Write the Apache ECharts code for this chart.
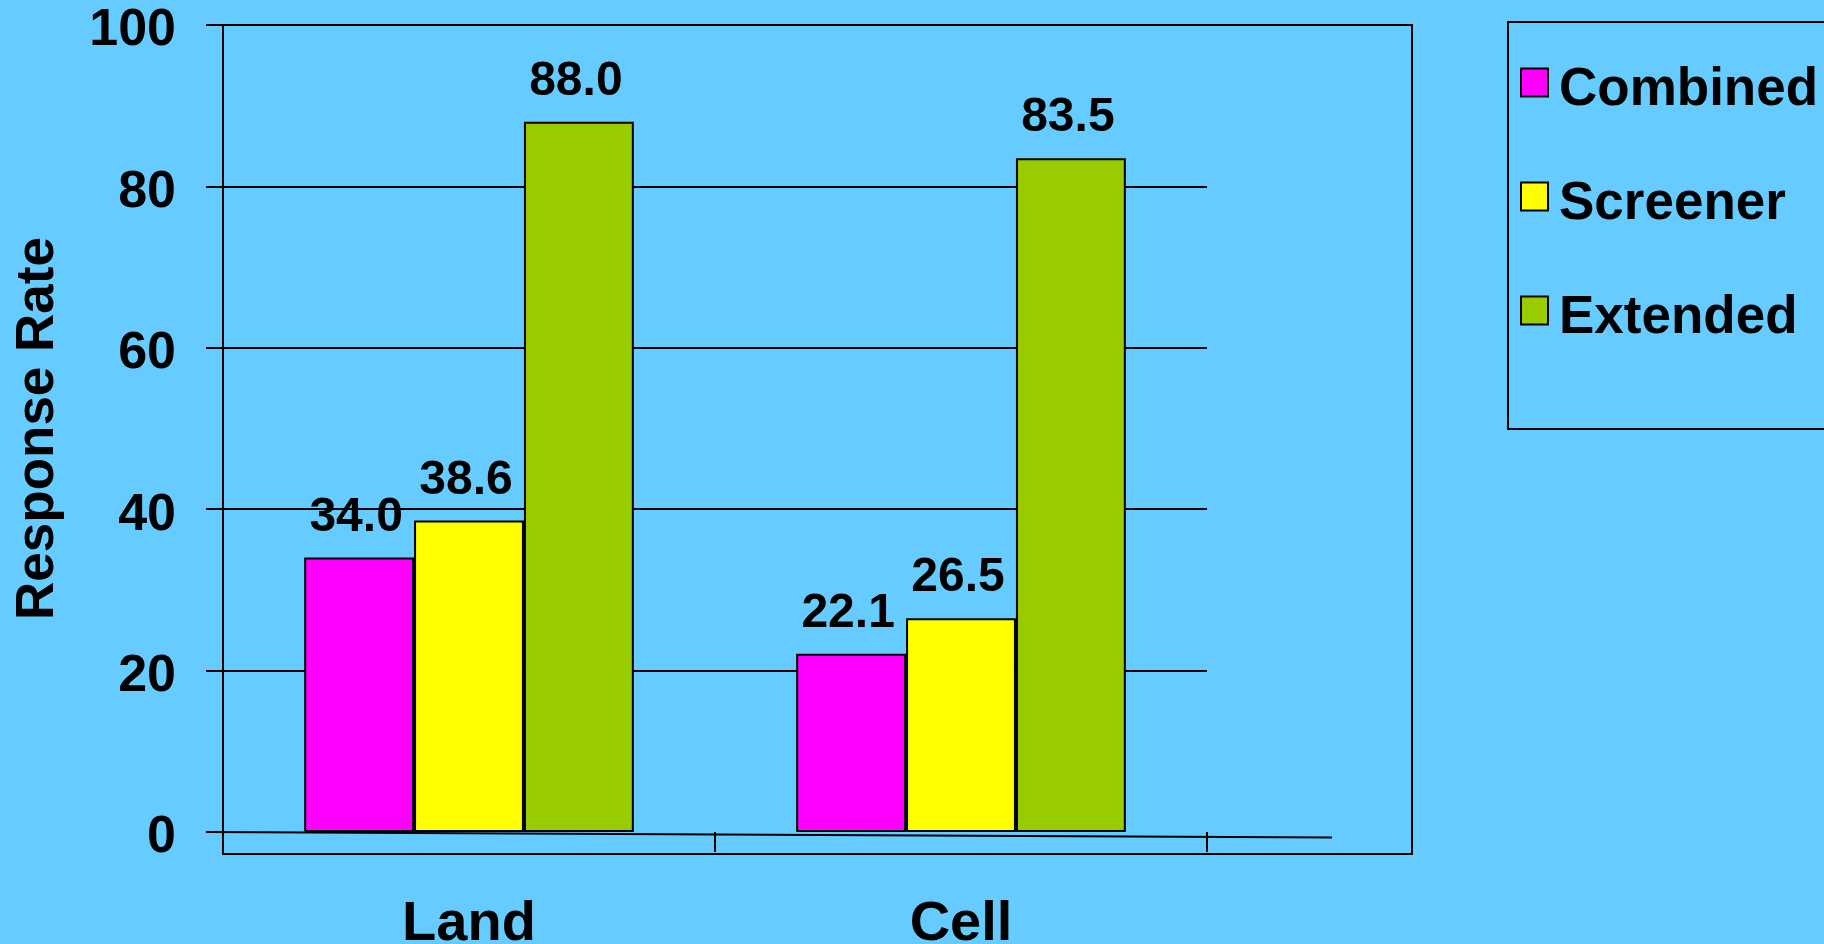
<!DOCTYPE html>
<html>
<head>
<meta charset="utf-8">
<title>Response Rate</title>
<script src="https://cdn.jsdelivr.net/npm/echarts@6/dist/echarts.min.js"></script>
<style>
  html, body { margin: 0; padding: 0; background: #66CCFF; }
  #chart { width: 1824px; height: 944px; }
</style>
</head>
<body>
<div id="chart"></div>
<script>
// Sample groups and response rates (%)
const categories = ['Land', 'Cell'];
const seriesNames = ['Combined', 'Screener', 'Extended'];
const combined = [34.0, 22.1];
const screener = [38.6, 26.5];
const extended = [88.0, 83.5];
const yTicks = { min: 0, max: 100, interval: 20 };

const seriesValues = [combined, screener, extended];
const seriesColors = ['#FF00FF', '#FFFF00', '#99CC00'];

const FONT = '"Liberation Sans", Arial, Helvetica, sans-serif';
const GRID = { left: 223, top: 25, width: 984, height: 807 };
const FRAME_RIGHT = 1412;
const FRAME_BOTTOM = 854;

const chart = echarts.init(document.getElementById('chart'), null, { renderer: 'canvas' });

const series = seriesNames.map((name, i) => ({
  name: name,
  type: 'bar',
  data: seriesValues[i],
  barGap: '0%',
  barCategoryGap: '33%',
  itemStyle: { color: seriesColors[i], borderColor: '#000', borderWidth: 2 },
  label: {
    show: true,
    position: 'top',
    distance: 16,
    offset: [-3, 0],
    formatter: p => p.value.toFixed(1),
    color: '#000',
    fontFamily: FONT,
    fontWeight: 'bold',
    fontSize: 48
  }
}));

chart.setOption({
  backgroundColor: '#66CCFF',
  animation: false,
  grid: {
    left: GRID.left, top: GRID.top, width: GRID.width, height: GRID.height,
    containLabel: false,
    outerBoundsMode: 'none'
  },
  legend: {
    orient: 'vertical',
    left: 1508,
    top: 22,
    padding: [26, 8, 84, 12],
    borderColor: '#000',
    borderWidth: 2,
    itemWidth: 27,
    itemHeight: 28,
    itemGap: 45,
    icon: 'rect',
    formatter: name => '{t|' + name + '}',
    textStyle: {
      color: '#000',
      fontFamily: FONT,
      fontWeight: 'bold',
      fontSize: 53,
      rich: {
        t: {
          color: '#000',
          fontFamily: FONT,
          fontWeight: 'bold',
          fontSize: 53,
          lineHeight: 42,
          padding: [16, 0, 0, 6]
        }
      }
    },
    data: seriesNames
  },
  xAxis: {
    type: 'category',
    data: categories,
    axisLine: { show: false },
    axisTick: { show: true, length: 20, lineStyle: { color: '#000', width: 2 } },
    axisLabel: {
      color: '#000',
      fontFamily: FONT,
      fontWeight: 'bold',
      fontSize: 56,
      margin: 65
    }
  },
  yAxis: {
    type: 'value',
    min: yTicks.min,
    max: yTicks.max,
    interval: yTicks.interval,
    name: 'Response Rate',
    nameLocation: 'middle',
    nameGap: 158,
    nameTextStyle: {
      color: '#000',
      fontFamily: FONT,
      fontWeight: 'bold',
      fontSize: 53
    },
    axisLine: { show: true, lineStyle: { color: '#000', width: 2 } },
    axisTick: { show: true, length: 17, lineStyle: { color: '#000', width: 2 } },
    axisLabel: {
      margin: 47,
      formatter: v => '{v|' + v + '}',
      rich: {
        v: {
          color: '#000',
          fontFamily: FONT,
          fontWeight: 'bold',
          fontSize: 52,
          lineHeight: 52,
          padding: [12, 0, 0, 0]
        }
      }
    },
    splitLine: { show: true, showMinLine: false, lineStyle: { color: '#000', width: 2 } }
  },
  series: series
});

// Frame around the plot and the slightly tilted floor line of the category axis
const zeroY = chart.convertToPixel({ yAxisIndex: 0 }, 0);
const xEnd = GRID.left + GRID.width;
chart.setOption({
  graphic: [
    {
      type: 'rect',
      silent: true,
      z: 0,
      shape: { x: GRID.left, y: GRID.top, width: FRAME_RIGHT - GRID.left, height: FRAME_BOTTOM - GRID.top },
      style: { fill: null, stroke: '#000', lineWidth: 2 }
    },
    {
      type: 'line',
      silent: true,
      z: 10,
      shape: { x1: GRID.left - 16, y1: zeroY, x2: xEnd + 125, y2: zeroY + 5.5 },
      style: { stroke: '#000', lineWidth: 2 }
    }
  ]
});
</script>
</body>
</html>
